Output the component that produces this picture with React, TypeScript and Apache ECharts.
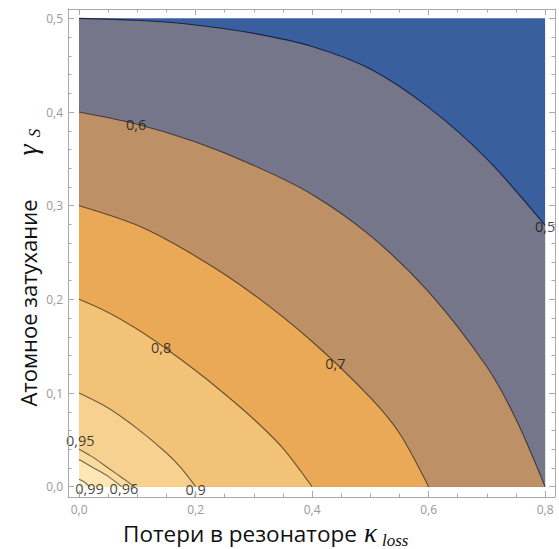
import React, { useEffect, useRef } from "react";
import * as echarts from "echarts";

// contour levels (labels) and band colours (from outermost to innermost)
const levelLabels = ["0,5", "0,6", "0,7", "0,8", "0,9", "0,95", "0,96", "0,99"];
const topBandColor = "#3a5f9f";
const bandColors = ["#75768a", "#bd9065", "#e9a957", "#f2c277", "#f7d18f", "#f9dba0", "#fce7b5", "#fdf2cf"];
const lineColors = ["rgba(15,25,55,0.85)", "rgba(0,0,0,0.55)", "rgba(0,0,0,0.55)", "rgba(0,0,0,0.55)", "rgba(0,0,0,0.55)", "rgba(0,0,0,0.55)", "rgba(0,0,0,0.55)", "rgba(0,0,0,0.55)"];

// contour lines: [kappa_loss, gamma_s]
const topBand = [[0, 0.5], [0.8, 0.5]];
const c05 = [[0, 0.5], [0.1, 0.498], [0.2, 0.493], [0.3, 0.484], [0.4, 0.47], [0.5, 0.446], [0.6, 0.405], [0.7, 0.35], [0.8, 0.279]];
const c06 = [[0, 0.4], [0.1, 0.387], [0.2, 0.368], [0.3, 0.343], [0.4, 0.312], [0.5, 0.268], [0.6, 0.208], [0.7, 0.128], [0.75, 0.072], [0.8, 0]];
const c07 = [[0, 0.3], [0.1, 0.279], [0.2, 0.246], [0.3, 0.205], [0.4, 0.155], [0.5, 0.095], [0.55, 0.057], [0.6, 0]];
const c08 = [[0, 0.2], [0.05, 0.186], [0.1, 0.168], [0.15, 0.147], [0.2, 0.124], [0.25, 0.099], [0.3, 0.072], [0.35, 0.041], [0.4, 0]];
const c09 = [[0, 0.1], [0.05, 0.084], [0.1, 0.062], [0.15, 0.036], [0.175, 0.02], [0.2, 0]];
const c095 = [[0, 0.04], [0.025, 0.031], [0.05, 0.02], [0.075, 0.009], [0.095, 0]];
const c096 = [[0, 0.029], [0.025, 0.02], [0.05, 0.011], [0.073, 0]];
const c099 = [[0, 0.008], [0.009, 0.005], [0.018, 0]];
const contours = [c05, c06, c07, c08, c09, c095, c096, c099];

// label positions for the contour labels
const labelPoints = [
  [0.8, 0.278, "0,5"],
  [0.098, 0.387, "0,6"],
  [0.44, 0.131, "0,7"],
  [0.141, 0.149, "0,8"],
  [0.2, -0.003, "0,9"],
  [0.002, 0.049, "0,95"],
  [0.077, -0.002, "0,96"],
  [0.018, -0.002, "0,99"],
];

// ticks
const xMajor = [0, 0.2, 0.4, 0.6, 0.8];
const xMinor = [0.05, 0.1, 0.15, 0.25, 0.3, 0.35, 0.45, 0.5, 0.55, 0.65, 0.7, 0.75];
const yMajor = [0, 0.1, 0.2, 0.3, 0.4, 0.5];
const yMinor = [0.02, 0.04, 0.06, 0.08, 0.12, 0.14, 0.16, 0.18, 0.22, 0.24, 0.26, 0.28, 0.32, 0.34, 0.36, 0.38, 0.42, 0.44, 0.46, 0.48];

const X_MIN = -0.019, X_MAX = 0.817, Y_MIN = -0.011, Y_MAX = 0.51;
const FRAME = "#a9a9a9";
const fmt = (v: number) => v.toFixed(1).replace(".", ",");

function makeX(pos: "bottom" | "top", values: number[], len: number, labels: boolean, line: boolean) {
  return {
    type: "value", position: pos, min: X_MIN, max: X_MAX,
    axisLine: { show: line, onZero: false, lineStyle: { color: FRAME, width: 1 } },
    axisTick: { show: true, inside: true, length: len, customValues: values, lineStyle: { color: FRAME } },
    axisLabel: { show: labels, customValues: values, formatter: fmt, color: "#999999", fontSize: 12, fontFamily: "Open Sans", margin: 6 },
    splitLine: { show: false },
    z: 20,
  };
}
function makeY(pos: "left" | "right", values: number[], len: number, labels: boolean, line: boolean) {
  return {
    type: "value", position: pos, min: Y_MIN, max: Y_MAX,
    axisLine: { show: line, onZero: false, lineStyle: { color: FRAME, width: 1 } },
    axisTick: { show: true, inside: true, length: len, customValues: values, lineStyle: { color: FRAME } },
    axisLabel: { show: labels, customValues: values, formatter: fmt, color: "#999999", fontSize: 12, fontFamily: "Open Sans", margin: 5 },
    splitLine: { show: false },
    z: 20,
  };
}

export default function App() {
  const ref = useRef<HTMLDivElement>(null);
  useEffect(() => {
    if (!ref.current) return;
    const chart = echarts.init(ref.current, null, { renderer: "svg" });
    const series: any[] = [];
    series.push({
      type: "line", data: topBand, symbol: "none", silent: true, z: 1,
      xAxisIndex: 0, yAxisIndex: 0,
      lineStyle: { width: 0 }, areaStyle: { color: topBandColor, opacity: 1 },
    });
    contours.forEach((c, i) => {
      series.push({
        type: "line", data: c, symbol: "none", smooth: 0.3, silent: true,
        xAxisIndex: 0, yAxisIndex: 0,
        lineStyle: { color: lineColors[i], width: 1.1 },
        areaStyle: { color: bandColors[i], opacity: 1 },
        z: 3 + i,
      });
    });
    series.push({
      type: "scatter", data: labelPoints, symbolSize: 1, silent: true, z: 15,
      xAxisIndex: 0, yAxisIndex: 0,
      itemStyle: { color: "rgba(0,0,0,0)" },
      label: {
        show: true, position: "inside", color: "#111111", fontSize: 14.5, fontFamily: "Open Sans",
        formatter: (p: any) => p.value[2],
      },
    });
    chart.setOption({
      animation: false,
      backgroundColor: "#ffffff",
      grid: { left: 68, top: 9, width: 487, height: 488, containLabel: false },
      xAxis: [
        makeX("bottom", xMajor, 6, true, true),
        makeX("bottom", xMinor, 3.5, false, false),
        makeX("top", xMajor, 6, false, true),
        makeX("top", xMinor, 3.5, false, false),
      ],
      yAxis: [
        makeY("left", yMajor, 6, true, true),
        makeY("left", yMinor, 3.5, false, false),
        makeY("right", yMajor, 6, false, true),
        makeY("right", yMinor, 3.5, false, false),
      ],
      series,
      graphic: [
        {
          type: "group", x: 0, y: 0, silent: true,
          children: [
            { type: "text", x: 123, y: 533, style: { text: "Потери в резонаторе", fill: "#111", fontSize: 22.5, fontFamily: "Open Sans", textAlign: "left", textVerticalAlign: "middle" } },
            { type: "text", x: 364, y: 533, style: { text: "κ", fill: "#111", fontSize: 27, fontStyle: "italic", fontFamily: "Liberation Serif", textAlign: "left", textVerticalAlign: "middle" } },
            { type: "text", x: 382, y: 540, style: { text: "loss", fill: "#111", fontSize: 17, fontStyle: "italic", fontFamily: "Liberation Serif", textAlign: "left", textVerticalAlign: "middle" } },
          ],
        },
        {
          type: "group", x: 28, y: 303, rotation: Math.PI / 2, silent: true,
          children: [
            { type: "text", x: 0, y: 0, style: { text: "Атомное затухание", fill: "#111", fontSize: 22, fontFamily: "Open Sans", textAlign: "center", textVerticalAlign: "middle" } },
            { type: "text", x: 153, y: -1, style: { text: "γ", fill: "#111", fontSize: 28, fontStyle: "italic", fontFamily: "Liberation Serif", textAlign: "center", textVerticalAlign: "middle" } },
            { type: "text", x: 170, y: 6, style: { text: "S", fill: "#111", fontSize: 17, fontStyle: "italic", fontFamily: "Liberation Serif", textAlign: "center", textVerticalAlign: "middle" } },
          ],
        },
      ],
    });
    return () => chart.dispose();
  }, []);
  return <div ref={ref} style={{ width: 559, height: 549, position: "absolute", left: 0, top: 0 }} />;
}
